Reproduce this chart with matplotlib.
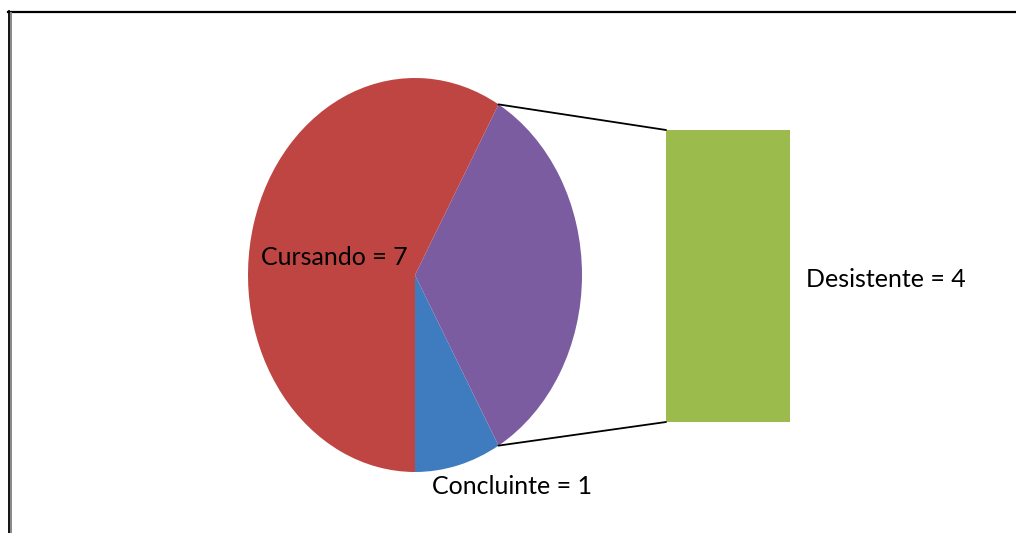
import numpy as np
import matplotlib.pyplot as plt
from matplotlib.patches import ConnectionPatch
from matplotlib.lines import Line2D

# situation of the students
pie_labels = ["Concluinte", "Desistente", "Cursando"]
pie_values = [1, 4, 7]
pie_colors = ["#3F7CBF", "#7B5CA0", "#BF4542"]
bar_label = "Desistente"
bar_value = 4
bar_color = "#9BBB4C"

plt.rcParams['font.family'] = ['Lato', 'DejaVu Sans']
FS = 18

W, H = 1016, 533
fig = plt.figure(figsize=(W / 100, H / 100), dpi=100)


def px_axes(x0, y0, x1, y1):
    # axes placed by pixel box (top-left origin)
    return fig.add_axes([x0 / W, 1 - y1 / H, (x1 - x0) / W, (y1 - y0) / H])


# elliptical pie: square data range on a tall axes box
ax = px_axes(248, 78, 582, 472)
wedges, _ = ax.pie(pie_values, colors=pie_colors, startangle=270,
                   counterclock=True, radius=1,
                   wedgeprops=dict(linewidth=0))
ax.set_aspect('auto')
ax.set_xlim(-1, 1)
ax.set_ylim(-1, 1)
ax.axis('off')

ax.text(-0.485, 0.09, f"{pie_labels[2]} = {pie_values[2]}", fontsize=FS,
        ha='center', va='center', color='black')
ax.text(0.58, -1.075, f"{pie_labels[0]} = {pie_values[0]}", fontsize=FS,
        ha='center', va='center', color='black')

# stacked bar for the split-out slice
bx = px_axes(666, 130, 790, 422)
bx.bar(0, bar_value, width=1, color=bar_color, linewidth=0)
bx.set_xlim(-0.5, 0.5)
bx.set_ylim(0, bar_value)
bx.axis('off')
bx.text(0.63, bar_value / 2 - 0.05, f"{bar_label} = {bar_value}", fontsize=FS,
        ha='left', va='center', color='black')

# connector lines from the purple slice to the bar
w = wedges[1]
for ang, yb in [(w.theta2, bar_value), (w.theta1, 0)]:
    p = (np.cos(np.radians(ang)), np.sin(np.radians(ang)))
    con = ConnectionPatch(xyA=p, coordsA=ax.transData, xyB=(-0.5, yb),
                          coordsB=bx.transData, color='black', lw=1.3)
    fig.add_artist(con)

# outer frame (top and left edges)
fig.add_artist(Line2D([8 / W, 1], [1 - 11.5 / H, 1 - 11.5 / H],
                      transform=fig.transFigure, color='black', lw=1.6))
fig.add_artist(Line2D([8.7 / W, 8.7 / W], [0, 1 - 11 / H],
                      transform=fig.transFigure, color='black', lw=1.3))
fig.add_artist(Line2D([11 / W, 11 / W], [0, 1 - 12.5 / H],
                      transform=fig.transFigure, color='#888888', lw=1.4))

fig.savefig("out.png", dpi=100)
